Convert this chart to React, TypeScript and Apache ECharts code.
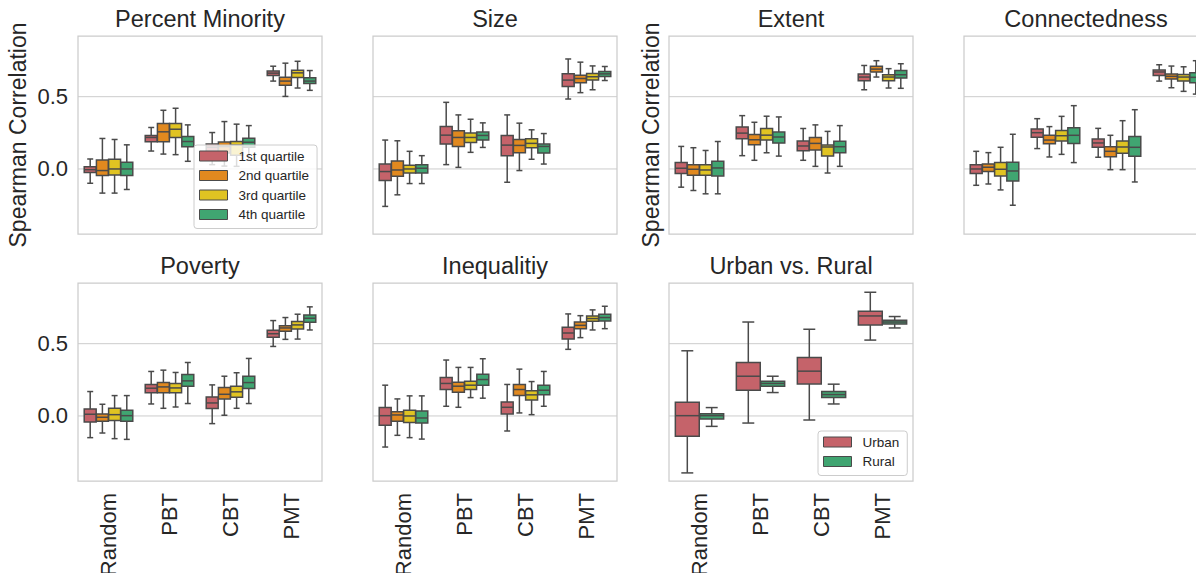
import React, { useEffect, useRef } from 'react';
import * as echarts from 'echarts';

// ---------------- data ----------------
const categories = ['Random', 'PBT', 'CBT', 'PMT'];
const quartileNames = ['1st quartile', '2nd quartile', '3rd quartile', '4th quartile'];
const areaNames = ['Urban', 'Rural'];
const gridValues = [0, 0.5];

// each hue: per category [min, q1, median, q3, max]
const percentMinority = [
  [[-0.099, -0.025, -0.005, 0.016, 0.069], [0.124, 0.188, 0.218, 0.232, 0.287], [0.03, 0.115, 0.15, 0.172, 0.252], [0.608, 0.647, 0.663, 0.677, 0.711]],
  [[-0.167, -0.046, -0.011, 0.062, 0.211], [0.103, 0.188, 0.257, 0.314, 0.406], [0.02, 0.11, 0.155, 0.186, 0.328], [0.502, 0.58, 0.608, 0.635, 0.732]],
  [[-0.167, -0.041, 0.0, 0.067, 0.204], [0.099, 0.218, 0.275, 0.314, 0.42], [0.018, 0.095, 0.165, 0.19, 0.31], [0.56, 0.633, 0.665, 0.683, 0.745]],
  [[-0.142, -0.046, 0.0, 0.046, 0.167], [0.053, 0.154, 0.19, 0.225, 0.305], [0.06, 0.15, 0.185, 0.213, 0.3], [0.544, 0.592, 0.608, 0.631, 0.681]],
];
const size = [
  [[-0.259, -0.08, -0.018, 0.034, 0.2], [0.03, 0.172, 0.234, 0.294, 0.461], [-0.092, 0.092, 0.165, 0.232, 0.374], [0.484, 0.571, 0.615, 0.658, 0.761]],
  [[-0.179, -0.05, -0.007, 0.055, 0.195], [0.011, 0.156, 0.218, 0.264, 0.374], [-0.011, 0.112, 0.163, 0.204, 0.317], [0.528, 0.596, 0.626, 0.649, 0.739]],
  [[-0.101, -0.028, 0.0, 0.025, 0.122], [0.115, 0.183, 0.218, 0.248, 0.344], [0.067, 0.147, 0.177, 0.209, 0.271], [0.548, 0.615, 0.638, 0.661, 0.713]],
  [[-0.101, -0.028, 0.005, 0.03, 0.092], [0.149, 0.2, 0.232, 0.255, 0.319], [0.034, 0.11, 0.156, 0.172, 0.245], [0.612, 0.64, 0.658, 0.674, 0.709]],
];
const extent = [
  [[-0.126, -0.032, 0.005, 0.044, 0.156], [0.092, 0.209, 0.248, 0.291, 0.369], [0.06, 0.126, 0.159, 0.193, 0.28], [0.548, 0.611, 0.636, 0.657, 0.716]],
  [[-0.149, -0.044, -0.002, 0.03, 0.147], [0.06, 0.167, 0.202, 0.239, 0.323], [0.018, 0.131, 0.177, 0.218, 0.305], [0.636, 0.671, 0.691, 0.71, 0.749]],
  [[-0.172, -0.044, -0.007, 0.03, 0.128], [0.112, 0.2, 0.234, 0.28, 0.365], [-0.028, 0.089, 0.152, 0.165, 0.26], [0.56, 0.611, 0.636, 0.652, 0.694]],
  [[-0.172, -0.048, 0.007, 0.053, 0.19], [0.089, 0.179, 0.221, 0.255, 0.36], [0.018, 0.112, 0.154, 0.191, 0.3], [0.558, 0.629, 0.652, 0.682, 0.728]],
];
const connectedness = [
  [[-0.113, -0.032, 0.0, 0.03, 0.122], [0.141, 0.219, 0.251, 0.276, 0.348], [0.081, 0.15, 0.18, 0.207, 0.281], [0.608, 0.647, 0.671, 0.684, 0.721]],
  [[-0.104, -0.018, 0.012, 0.035, 0.113], [0.083, 0.175, 0.2, 0.233, 0.293], [-0.005, 0.085, 0.122, 0.154, 0.233], [0.562, 0.622, 0.641, 0.657, 0.712]],
  [[-0.145, -0.048, -0.002, 0.044, 0.15], [0.101, 0.194, 0.23, 0.267, 0.364], [-0.005, 0.108, 0.152, 0.194, 0.334], [0.537, 0.608, 0.636, 0.654, 0.707]],
  [[-0.251, -0.083, -0.014, 0.046, 0.24], [0.044, 0.177, 0.233, 0.286, 0.438], [-0.09, 0.088, 0.15, 0.224, 0.41], [0.518, 0.597, 0.634, 0.666, 0.749]],
];
const poverty = [
  [[-0.15, -0.042, 0.012, 0.049, 0.169], [0.083, 0.16, 0.192, 0.218, 0.308], [-0.053, 0.051, 0.09, 0.132, 0.215], [0.481, 0.544, 0.569, 0.593, 0.66]],
  [[-0.118, -0.037, -0.009, 0.014, 0.081], [0.053, 0.16, 0.201, 0.231, 0.317], [0.005, 0.118, 0.15, 0.197, 0.275], [0.53, 0.586, 0.609, 0.625, 0.681]],
  [[-0.157, -0.032, 0.009, 0.053, 0.141], [0.062, 0.16, 0.194, 0.225, 0.301], [0.053, 0.13, 0.167, 0.206, 0.299], [0.532, 0.602, 0.63, 0.653, 0.704]],
  [[-0.162, -0.037, 0.002, 0.039, 0.141], [0.086, 0.206, 0.243, 0.287, 0.37], [0.086, 0.19, 0.231, 0.275, 0.398], [0.595, 0.648, 0.676, 0.699, 0.755]],
];
const inequality = [
  [[-0.215, -0.065, 0.002, 0.058, 0.213], [0.067, 0.183, 0.225, 0.266, 0.387], [-0.104, 0.014, 0.06, 0.097, 0.218], [0.461, 0.532, 0.574, 0.613, 0.706]],
  [[-0.134, -0.037, 0.007, 0.03, 0.118], [0.06, 0.164, 0.206, 0.234, 0.336], [0.021, 0.141, 0.183, 0.218, 0.324], [0.542, 0.604, 0.627, 0.65, 0.694]],
  [[-0.15, -0.046, 0.0, 0.039, 0.139], [0.127, 0.183, 0.213, 0.241, 0.336], [0.009, 0.111, 0.146, 0.174, 0.238], [0.595, 0.655, 0.674, 0.692, 0.734]],
  [[-0.16, -0.049, -0.014, 0.035, 0.139], [0.123, 0.213, 0.252, 0.289, 0.396], [0.067, 0.146, 0.178, 0.213, 0.308], [0.604, 0.657, 0.681, 0.704, 0.759]],
];
const urbanRural = [
  [[-0.394, -0.141, 0.002, 0.095, 0.451], [-0.049, 0.178, 0.275, 0.37, 0.65], [-0.028, 0.222, 0.31, 0.405, 0.6], [0.525, 0.63, 0.692, 0.725, 0.856]],
  [[-0.072, -0.021, 0.002, 0.016, 0.058], [0.162, 0.206, 0.225, 0.241, 0.275], [0.083, 0.127, 0.148, 0.169, 0.22], [0.609, 0.637, 0.65, 0.662, 0.688]],
];

// ---------------- styling / layout ----------------
const FONT = '"Liberation Sans", Arial, sans-serif';
const TEXT = '#262626';
const EDGE = '#4a4a4a';
const FRAME = '#cccccc';
const quartileColors = ['#c5636a', '#e1891f', '#e0c322', '#40a571'];
const areaColors = ['#c5636a', '#40a571'];

const panels = [
  { title: 'Percent Minority', data: percentMinority, names: quartileNames, colors: quartileColors, left: 78, top: 36, yTicks: true, yName: 49, xLabels: false },
  { title: 'Size', data: size, names: quartileNames, colors: quartileColors, left: 373, top: 36, yTicks: false, yName: null, xLabels: false },
  { title: 'Extent', data: extent, names: quartileNames, colors: quartileColors, left: 669, top: 36, yTicks: false, yName: 7, xLabels: false },
  { title: 'Connectedness', data: connectedness, names: quartileNames, colors: quartileColors, left: 964, top: 36, yTicks: false, yName: null, xLabels: false },
  { title: 'Poverty', data: poverty, names: quartileNames, colors: quartileColors, left: 78, top: 283, yTicks: true, yName: null, xLabels: true },
  { title: 'Inequalitiy', data: inequality, names: quartileNames, colors: quartileColors, left: 373, top: 283, yTicks: false, yName: null, xLabels: true },
  { title: 'Urban vs. Rural', data: urbanRural, names: areaNames, colors: areaColors, left: 669, top: 283, yTicks: false, yName: null, xLabels: true },
];
const PW = 244;
const PH = 198;

function boxRenderer(hue: number, nHue: number, color: string) {
  return (params: any, api: any) => {
    const cat = api.value(0);
    const vals = [api.value(1), api.value(2), api.value(3), api.value(4), api.value(5)];
    const band = api.size([1, 0])[0];
    const groupW = band * 0.8;
    const sub = groupW / nHue;
    const w = sub * 0.98;
    const cx = api.coord([cat, 0])[0] - groupW / 2 + sub * (hue + 0.5);
    const ys = vals.map((v: number) => api.coord([cat, v])[1]);
    const [yLo, yQ1, yMed, yQ3, yHi] = ys;
    const cap = w * 0.5;
    const ls = { stroke: EDGE, lineWidth: 1.5, fill: null };
    return {
      type: 'group',
      children: [
        { type: 'line', shape: { x1: cx, y1: yQ3, x2: cx, y2: yHi }, style: ls },
        { type: 'line', shape: { x1: cx, y1: yQ1, x2: cx, y2: yLo }, style: ls },
        { type: 'line', shape: { x1: cx - cap / 2, y1: yHi, x2: cx + cap / 2, y2: yHi }, style: ls },
        { type: 'line', shape: { x1: cx - cap / 2, y1: yLo, x2: cx + cap / 2, y2: yLo }, style: ls },
        { type: 'rect', shape: { x: cx - w / 2, y: yQ3, width: w, height: yQ1 - yQ3 }, style: { fill: color, stroke: EDGE, lineWidth: 1.5 } },
        { type: 'line', shape: { x1: cx - w / 2, y1: yMed, x2: cx + w / 2, y2: yMed }, style: ls },
      ],
    };
  };
}

function gridLineRenderer(params: any, api: any) {
  const y = api.coord([0, api.value(1)])[1];
  const cs = params.coordSys;
  return {
    type: 'line',
    shape: { x1: cs.x, y1: y, x2: cs.x + cs.width, y2: y },
    style: { stroke: FRAME, lineWidth: 1 },
  };
}

function buildOption() {
  const grid: any[] = [];
  const xAxis: any[] = [];
  const yAxis: any[] = [];
  const series: any[] = [];
  const title: any[] = [];

  panels.forEach((p, i) => {
    grid.push({
      left: p.left, top: p.top, width: PW, height: PH,
      show: true, borderColor: FRAME, borderWidth: 1.25, backgroundColor: '#ffffff',
      containLabel: false, outerBoundsMode: 'none',
    });
    title.push({
      text: p.title, left: p.left + PW / 2, top: p.top - 29, textAlign: 'center', padding: 0,
      textStyle: { fontSize: 23.5, fontWeight: 'normal', color: TEXT, fontFamily: FONT },
    });
    xAxis.push({
      type: 'category', gridIndex: i, data: categories,
      axisLine: { show: false }, axisTick: { show: false }, splitLine: { show: false },
      axisLabel: { show: p.xLabels, rotate: 90, fontSize: 22, margin: 12, color: TEXT, fontFamily: FONT },
    });
    yAxis.push({
      type: 'value', gridIndex: i, min: -0.45, max: 0.92, interval: 0.05,
      axisLine: { show: false }, axisTick: { show: false }, splitLine: { show: false },
      axisLabel: {
        show: p.yTicks, fontSize: 22, margin: 10, color: TEXT, fontFamily: FONT,
        formatter: (v: number) => (Math.abs(v) < 1e-6 ? '0.0' : Math.abs(v - 0.5) < 1e-6 ? '0.5' : ''),
      },
      name: p.yName !== null ? 'Spearman Correlation' : '',
      nameLocation: 'middle', nameGap: p.yName ?? 0, nameMoveOverlap: false,
      nameTextStyle: { fontSize: 23, color: TEXT, fontFamily: FONT },
    });
    series.push({
      type: 'custom', name: 'grid' + i, xAxisIndex: i, yAxisIndex: i, z: 1, silent: true,
      data: gridValues.map((v) => [0, v]), encode: { x: 0, y: 1 },
      renderItem: gridLineRenderer,
    });
    p.data.forEach((hueData, h) => {
      series.push({
        type: 'custom', name: p.names[h], xAxisIndex: i, yAxisIndex: i, z: 2,
        itemStyle: { color: p.colors[h], borderColor: EDGE, borderWidth: 1 },
        data: hueData.map((v, c) => [c, ...v]),
        encode: { x: 0, y: [1, 2, 3, 4, 5] },
        renderItem: boxRenderer(h, p.data.length, p.colors[h]),
      });
    });
  });

  const legendBase = {
    orient: 'vertical', icon: 'rect', itemWidth: 28, itemHeight: 10, itemGap: 5.5,
    backgroundColor: 'rgba(255,255,255,0.8)', borderColor: '#cccccc', borderWidth: 1, borderRadius: 3,
    selectedMode: false, z: 10,
    textStyle: { fontSize: 13.5, color: TEXT, fontFamily: FONT, padding: [0, 0, 0, 6] },
    itemStyle: { borderColor: EDGE, borderWidth: 1 },
  };

  return {
    animation: false,
    backgroundColor: '#ffffff',
    textStyle: { fontFamily: FONT },
    title,
    grid,
    xAxis,
    yAxis,
    series,
    legend: [
      { ...legendBase, data: quartileNames, left: 194, top: 145, padding: [4, 8, 7, 5] },
      { ...legendBase, data: areaNames, left: 818, top: 431, padding: [4, 8, 7, 5] },
    ],
  };
}

export default function App() {
  const ref = useRef<HTMLDivElement>(null);
  useEffect(() => {
    if (!ref.current) return;
    const chart = echarts.init(ref.current, undefined, { renderer: 'svg' });
    chart.setOption(buildOption() as any);
    return () => chart.dispose();
  }, []);
  return (
    <div
      ref={ref}
      style={{ position: 'fixed', left: 0, top: 0, width: 1196, height: 573, background: '#ffffff' }}
    />
  );
}
